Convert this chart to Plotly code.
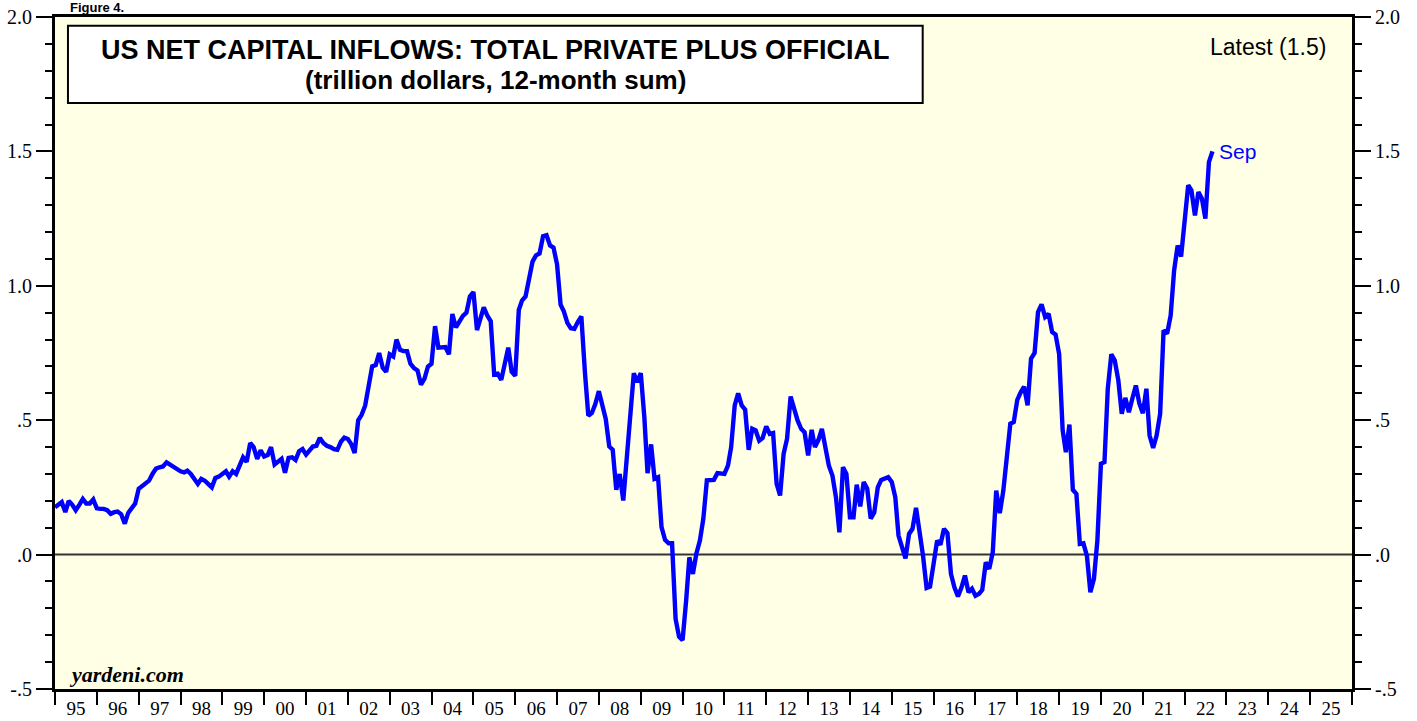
import pandas as pd
import numpy as np
import plotly.graph_objects as go

# Monthly values, trillion dollars (12-month sum), Jan 1995 .. Sep 2022
y1995 = [0.176, 0.185, 0.195, 0.158, 0.200, 0.185, 0.165, 0.185, 0.207, 0.190, 0.190, 0.205]
y1996 = [0.172, 0.170, 0.170, 0.165, 0.152, 0.158, 0.160, 0.150, 0.115, 0.155, 0.175, 0.190]
y1997 = [0.245, 0.255, 0.260, 0.275, 0.300, 0.320, 0.325, 0.328, 0.343, 0.335, 0.322, 0.315]
y1998 = [0.310, 0.306, 0.312, 0.300, 0.280, 0.263, 0.282, 0.275, 0.262, 0.250, 0.285, 0.290]
y1999 = [0.300, 0.310, 0.290, 0.310, 0.300, 0.330, 0.362, 0.345, 0.415, 0.400, 0.356, 0.388]
y2000 = [0.365, 0.370, 0.400, 0.335, 0.345, 0.356, 0.305, 0.360, 0.362, 0.352, 0.385, 0.393]
y2001 = [0.372, 0.385, 0.402, 0.405, 0.434, 0.415, 0.405, 0.400, 0.392, 0.390, 0.420, 0.435]
y2002 = [0.430, 0.410, 0.378, 0.500, 0.520, 0.555, 0.630, 0.700, 0.705, 0.750, 0.695, 0.680]
y2003 = [0.745, 0.737, 0.800, 0.762, 0.757, 0.757, 0.710, 0.694, 0.685, 0.632, 0.655, 0.700]
y2004 = [0.710, 0.850, 0.770, 0.770, 0.772, 0.745, 0.895, 0.845, 0.865, 0.888, 0.900, 0.960]
y2005 = [0.977, 0.835, 0.875, 0.920, 0.890, 0.868, 0.670, 0.673, 0.650, 0.710, 0.770, 0.680]
y2006 = [0.665, 0.910, 0.945, 0.960, 1.030, 1.090, 1.113, 1.120, 1.184, 1.188, 1.150, 1.142]
y2007 = [1.080, 0.930, 0.905, 0.862, 0.842, 0.840, 0.865, 0.886, 0.680, 0.517, 0.527, 0.560]
y2008 = [0.608, 0.555, 0.505, 0.402, 0.390, 0.241, 0.300, 0.201, 0.370, 0.500, 0.675, 0.641]
y2009 = [0.675, 0.511, 0.303, 0.410, 0.282, 0.288, 0.102, 0.055, 0.042, 0.042, -0.240, -0.305]
y2010 = [-0.318, -0.171, -0.010, -0.072, 0.003, 0.052, 0.133, 0.276, 0.276, 0.278, 0.303, 0.302]
y2011 = [0.300, 0.331, 0.400, 0.555, 0.600, 0.555, 0.539, 0.390, 0.468, 0.462, 0.424, 0.434]
y2012 = [0.477, 0.449, 0.452, 0.263, 0.220, 0.375, 0.431, 0.588, 0.542, 0.499, 0.468, 0.455]
y2013 = [0.369, 0.464, 0.400, 0.427, 0.468, 0.406, 0.331, 0.294, 0.213, 0.083, 0.325, 0.300]
y2014 = [0.139, 0.139, 0.260, 0.179, 0.270, 0.245, 0.134, 0.157, 0.250, 0.278, 0.285, 0.288]
y2015 = [0.270, 0.213, 0.071, 0.021, -0.014, 0.077, 0.096, 0.174, 0.089, -0.004, -0.124, -0.119]
y2016 = [-0.035, 0.052, 0.037, 0.096, 0.080, -0.072, -0.122, -0.156, -0.122, -0.078, -0.140, -0.127]
y2017 = [-0.153, -0.146, -0.131, -0.029, -0.053, 0.009, 0.238, 0.154, 0.238, 0.350, 0.487, 0.493]
y2018 = [0.576, 0.605, 0.625, 0.555, 0.729, 0.750, 0.902, 0.931, 0.884, 0.896, 0.828, 0.819]
y2019 = [0.747, 0.462, 0.381, 0.484, 0.241, 0.226, 0.040, 0.042, -0.005, -0.140, -0.090, 0.052]
y2020 = [0.338, 0.344, 0.617, 0.745, 0.722, 0.648, 0.524, 0.583, 0.530, 0.580, 0.629, 0.563]
y2021 = [0.526, 0.617, 0.443, 0.397, 0.443, 0.524, 0.834, 0.822, 0.890, 1.057, 1.150, 1.109]
y2022 = [1.243, 1.374, 1.355, 1.262, 1.349, 1.324, 1.250, 1.460, 1.500]

years = [y1995, y1996, y1997, y1998, y1999, y2000, y2001, y2002, y2003, y2004,
         y2005, y2006, y2007, y2008, y2009, y2010, y2011, y2012, y2013, y2014,
         y2015, y2016, y2017, y2018, y2019, y2020, y2021, y2022]
values = [v for yr in years for v in yr]
dates = pd.date_range("1995-01-01", periods=len(values), freq="MS")

y_tickvals = [-0.5, 0.0, 0.5, 1.0, 1.5, 2.0]
y_ticktext = ["-.5", ".0", ".5", "1.0", "1.5", "2.0"]
latest_label = "Sep"
title_line1 = "US NET CAPITAL INFLOWS: TOTAL PRIVATE PLUS OFFICIAL"
title_line2 = "(trillion dollars, 12-month sum)"

serif = "Liberation Serif, Times New Roman, serif"
sans = "Liberation Sans, Arial, sans-serif"

fig = go.Figure()
fig.add_trace(go.Scatter(x=dates, y=values, mode="lines",
                         line=dict(color="#0000FF", width=4.4),
                         showlegend=False, hoverinfo="skip"))
fig.add_trace(go.Scatter(x=[dates[0]], y=[None], yaxis="y2",
                         showlegend=False, hoverinfo="skip"))

minor_vals = [round(v, 1) for v in np.arange(-0.5, 2.01, 0.1)]

yaxis_common = dict(
    range=[-0.5, 2.0], tickmode="array", tickvals=y_tickvals, ticktext=y_ticktext,
    ticks="outside", ticklen=16, tickwidth=2, tickcolor="black",
    minor=dict(tickmode="array", tickvals=minor_vals, ticks="outside",
               ticklen=7, tickwidth=2, tickcolor="black", showgrid=False),
    showline=True, linewidth=3, linecolor="black",
    showgrid=False, zeroline=False, automargin=False,
    tickfont=dict(family=serif, size=20, color="black"),
)

fig.update_layout(
    width=1417, height=721,
    margin=dict(l=55, r=65, t=17, b=32, autoexpand=False),
    paper_bgcolor="white", plot_bgcolor="#FFFFE6",
    xaxis=dict(type="date", range=["1995-01-01", "2026-01-01"],
               tick0="1995-01-01", dtick="M12", tickformat="%y",
               ticklabelmode="period", ticks="outside", ticklen=13,
               tickwidth=2, tickcolor="black", ticklabelstandoff=-13,
               showline=True, linewidth=3, linecolor="black", mirror=True,
               showgrid=False, zeroline=False, automargin=False,
               tickfont=dict(family=serif, size=19, color="black")),
    yaxis=dict(side="left", **yaxis_common),
    yaxis2=dict(side="right", overlaying="y", anchor="x", **yaxis_common),
)

# zero line
fig.add_shape(type="line", xref="x domain", yref="y", x0=0, x1=1, y0=0, y1=0,
              line=dict(color="#333333", width=2), layer="below")

# title box
fig.add_shape(type="rect", xref="x domain", yref="y domain",
              x0=0.010, x1=0.669, y0=0.872, y1=0.987,
              fillcolor="white", line=dict(color="black", width=2), layer="below")
fig.add_annotation(xref="x domain", yref="y domain", x=0.3395, y=0.951,
                   xanchor="center", yanchor="middle",
                   text=f"<b>{title_line1}</b>", showarrow=False,
                   font=dict(family=sans, size=27, color="black"))
fig.add_annotation(xref="x domain", yref="y domain", x=0.3395, y=0.906,
                   xanchor="center", yanchor="middle",
                   text=f"<b>{title_line2}</b>", showarrow=False,
                   font=dict(family=sans, size=26, color="black"))

fig.add_annotation(xref="x domain", yref="y domain", x=0.9815, y=0.955,
                   xanchor="right", yanchor="middle",
                   text=f"Latest ({values[-1]:.1f})", showarrow=False,
                   font=dict(family=sans, size=23, color="black"))

fig.add_annotation(x=dates[-1], y=values[-1], xref="x", yref="y",
                   xanchor="left", yanchor="middle", xshift=5,
                   text=latest_label, showarrow=False,
                   font=dict(family=sans, size=21, color="#0000FF"))

fig.add_annotation(xref="x domain", yref="y domain", x=0.009, y=0.021,
                   xanchor="left", yanchor="middle",
                   text="<b><i>yardeni.com</i></b>", showarrow=False,
                   font=dict(family=serif, size=22, color="black"))

fig.add_annotation(xref="paper", yref="paper", x=0.01, y=1.0,
                   xanchor="left", yanchor="bottom", yshift=0,
                   text="<b>Figure 4.</b>", showarrow=False,
                   font=dict(family=sans, size=13, color="black"))

fig.write_html("out.html", config={"displayModeBar": False},
               post_script="document.body.style.margin='0';")
